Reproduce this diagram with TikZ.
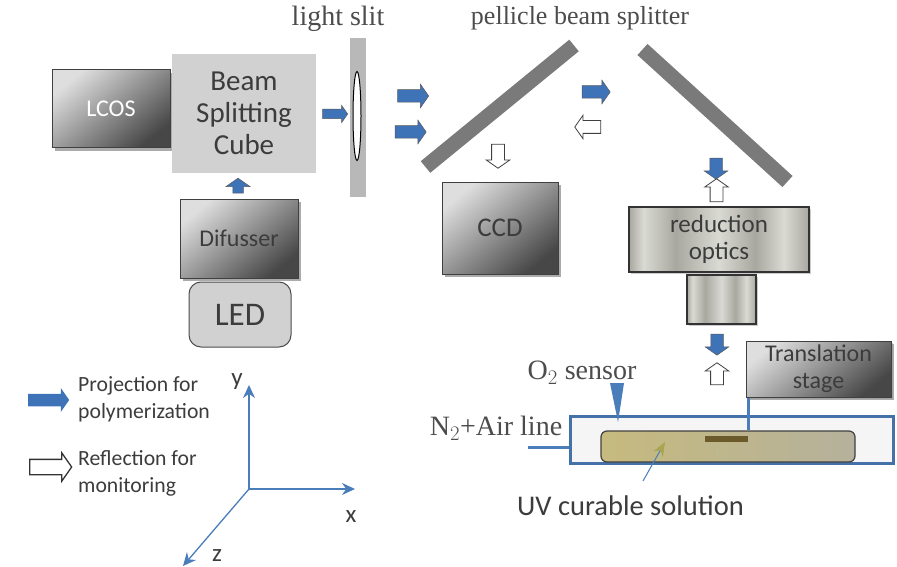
\documentclass[tikz,border=0pt]{standalone}
\usepackage{fontspec}
\setmainfont{Carlito}
\newfontfamily\labelfont{Liberation Serif}
\usepackage{xcolor}
\usetikzlibrary{arrows.meta,positioning,shadows,shapes.arrows,shapes.geometric}
\definecolor{beamblue}{HTML}{3F73B8}
\definecolor{axisblue}{HTML}{4A7EBB}
\definecolor{textgray}{HTML}{3C3C3C}
\definecolor{solutionleft}{HTML}{C6BA7E}
\definecolor{solutionright}{HTML}{B5B19C}
\definecolor{holderbrown}{HTML}{6B5A2A}
\definecolor{uvolive}{HTML}{A9A552}
\definecolor{bandlow}{HTML}{A8A8A0}
\definecolor{bandhigh}{HTML}{DADAD4}
\pgfdeclarehorizontalshading{opticsband}{100bp}{color(0bp)=(bandlow);color(25bp)=(bandlow);color(29bp)=(bandhigh);color(38bp)=(bandlow);color(50bp)=(bandhigh);color(60bp)=(bandlow);color(68bp)=(bandhigh);color(75bp)=(bandlow);color(100bp)=(bandlow)}

\begin{document}
\begin{tikzpicture}[x=1pt,y=-1pt,inner sep=0pt,text=textgray,align=center,
	box node/.style={rectangle,draw=black!75,line width=1pt,top color=black!13,bottom color=black!72,shading angle=40,
		drop shadow={shadow xshift=3pt,shadow yshift=-3pt,fill=black!55,opacity=.6}},
	optics node/.style={rectangle,draw=black!80,line width=1.3pt,shading=opticsband,
		drop shadow={shadow xshift=1.5pt,shadow yshift=-1.5pt,fill=black!40,opacity=.5}},
	fat arrow/.style={single arrow,inner ysep=6pt,single arrow head extend=5.5pt,single arrow head indent=0pt,single arrow tip angle=110,anchor=center},
	beam arrow/.style={fat arrow,fill=beamblue,draw=black!65,line width=.5pt},
	look arrow/.style={fat arrow,fill=white,draw=black!75,line width=.8pt},
	serif label/.style={font=\labelfont\fontsize{28}{30}\selectfont,text=black!70},
	side label/.style={font=\fontsize{21.7}{27}\selectfont,align=left,anchor=west},
	axis label/.style={font=\fontsize{25}{12}\selectfont,align=none},
	axis line/.style={-{Stealth[length=13pt,width=12pt]},draw=axisblue,line width=1.3pt},
	mirror/.style={draw=black!52,line width=15pt},
	pipe/.style={draw=axisblue,line width=3pt}]

	\useasboundingbox (0,0) rectangle (897,567);

	% illumination side
	\node[box node,minimum width=118pt,minimum height=78pt,text=white] (lcos) at (111,109) {\fontsize{24}{26}\selectfont LCOS};
	\node[rectangle,fill=black!18,minimum width=144pt,minimum height=119pt,font=\fontsize{29}{32}\selectfont] (cube) at (244,113.5) {Beam\\Splitting\\Cube};
	\node[box node,minimum width=118pt,minimum height=79pt,font=\fontsize{24}{26}\selectfont] (difusser) at (239,238.5) {Difusser};
	\node[rectangle,rounded corners=12pt,draw=black!70,line width=1pt,fill=black!18,minimum width=102pt,minimum height=65pt,font=\fontsize{33}{36}\selectfont] (led) at (240,314.5) {LED};
	\node[rectangle,fill=black!28,minimum width=16pt,minimum height=159pt] (slit) at (358,117.5) {};
	\node[ellipse,draw=black,line width=1pt,fill=white,minimum width=8pt,minimum height=89pt] (lens) at (357,116) {};
	\node[serif label] (slitlabel) at (338,19) {light slit};
	\node[serif label,font=\labelfont\fontsize{26}{30}\selectfont] (pelliclelabel) at (580,18) {pellicle beam splitter};

	\node[beam arrow,minimum height=25pt,inner ysep=4.5pt,single arrow head extend=4pt] (a1) at (333.5,114) {};
	\node[beam arrow,rotate=90,minimum height=15pt,inner ysep=5pt,single arrow head extend=7pt] (a2) at (238,187.5) {};
	\node[beam arrow,minimum height=31pt] (a3) at (411,96) {};
	\node[beam arrow,minimum height=31pt] (a4) at (408.5,132) {};
	\node[beam arrow,minimum height=28pt] (a5) at (594,92) {};
	\node[look arrow,rotate=180,minimum height=26pt] (b1) at (590,127) {};
	\node[look arrow,rotate=270,minimum height=24pt] (b2) at (498,154) {};

	% pellicles
	\coordinate (leftlow) at (425.5,167);
	\coordinate (lefthigh) at (574,45.5);
	\coordinate (righthigh) at (642.5,49.5);
	\coordinate (rightlow) at (787.5,181.5);
	\draw[mirror] (leftlow) -- (lefthigh);
	\draw[mirror] (righthigh) -- (rightlow);

	% camera and optics
	\node[box node,minimum width=116pt,minimum height=92pt,font=\fontsize{27}{30}\selectfont] (ccd) at (500,228) {CCD};
	\node[optics node,minimum width=180pt,minimum height=65pt,font=\fontsize{25}{27}\selectfont] (reduction) at (719,239.5) {reduction\\optics};
	\node[optics node,minimum width=69pt,minimum height=49pt] (lower) at (721.5,299.5) {};
	\node[beam arrow,rotate=270,minimum height=21pt] (a6) at (716,166.5) {};
	\node[look arrow,rotate=90,minimum height=23pt] (b3) at (716.5,192.5) {};
	\node[beam arrow,rotate=270,minimum height=21pt] (a7) at (717,342.5) {};
	\node[look arrow,rotate=90,minimum height=22pt] (b4) at (717,376) {};

	% sample
	\node[rectangle,draw=axisblue!90!black,line width=3pt,fill=black!4,minimum width=323pt,minimum height=47pt] (chamber) at (731.5,439.5) {};
	\node[rectangle,rounded corners=6pt,draw=black!75,line width=1.2pt,left color=solutionleft,right color=solutionright,minimum width=254pt,minimum height=31pt] (solution) at (728,446.5) {};
	\node[rectangle,fill=holderbrown,minimum width=43pt,minimum height=6pt] (holder) at (726.5,439) {};
	\node[box node,minimum width=145pt,minimum height=56pt,font=\fontsize{24}{27}\selectfont,drop shadow={shadow xshift=1.5pt,shadow yshift=-1.5pt,fill=black!40,opacity=.5}] (stage) at (818.5,369) {Translation\\stage};
	\draw[pipe] (holder.east |- stage.south) -- (holder.east |- solution.north);
	\coordinate (tubeend) at (528,447);
	\draw[pipe] (tubeend) -- (tubeend -| chamber.west);

	\node[serif label] (sensorlabel) at (582,373) {O$_2$ sensor};
	\node[serif label] (linelabel) at (496,428) {N$_2$+Air line};
	\coordinate (sensorleft) at (610,383);
	\coordinate (sensorright) at (624,383);
	\coordinate (sensortip) at (618,422);
	\fill[axisblue] (sensorleft) -- (sensorright) -- (sensortip) -- cycle;

	\node[font=\fontsize{28.5}{30}\selectfont] (uvlabel) at (630.5,506) {UV curable solution};
	\coordinate (uvstart) at (643,481);
	\coordinate (uvend) at (665,442);
	\draw[-{Stealth[length=14pt,width=11pt,color=uvolive]},draw=axisblue,line width=1pt] (uvstart) -- (uvend);

	% legend and axes
	\node[beam arrow,minimum height=41pt,draw=none] (legendbeam) at (46.5,400) {};
	\node[look arrow,minimum height=42pt,inner ysep=7pt,single arrow head extend=6.5pt,draw=black!80,line width=1.3pt] (legendlook) at (48,467) {};
	\node[side label] (legendtop) at (78,399.5) {Projection for\\polymerization};
	\node[side label] (legendlow) at (78,473.5) {Reflection for\\monitoring};

	\coordinate (origin) at (249,489);
	\coordinate (yend) at (249,385);
	\coordinate (xend) at (355,489);
	\coordinate (zend) at (183,566);
	\draw[axis line] (origin) -- (yend);
	\draw[axis line] (origin) -- (xend);
	\draw[axis line] (origin) -- (zend);
	\node[axis label] (ylabel) at (237,382) {y};
	\node[axis label] (xlabel) at (351,517) {x};
	\node[axis label] (zlabel) at (217,556) {z};
\end{tikzpicture}
\end{document}
